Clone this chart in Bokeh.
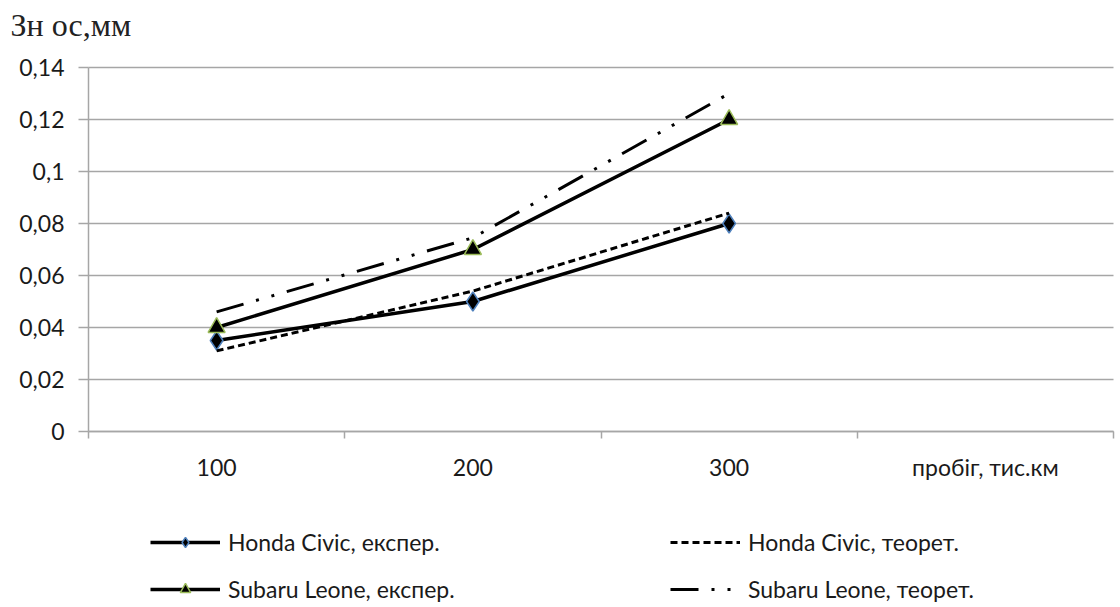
from bokeh.plotting import figure
from bokeh.models import FixedTicker, Legend, LegendItem, Label, Range1d, Grid
from bokeh.embed import file_html
from bokeh.resources import INLINE

# ---- data ----
x_pos = [1, 2, 3]
x_tick_pos = [1, 2, 3, 4]
x_tick_labels = ["100", "200", "300", "пробіг, тис.км"]
x_boundaries = [0.5, 1.5, 2.5, 3.5, 4.5]
honda_exp = [0.035, 0.05, 0.08]
honda_theor = [0.031, 0.054, 0.084]
subaru_exp = [0.04, 0.07, 0.12]
subaru_theor = [0.046, 0.0745, 0.13]
y_ticks = [0, 0.02, 0.04, 0.06, 0.08, 0.1, 0.12, 0.14]
y_tick_labels = ["0", "0,02", "0,04", "0,06", "0,08", "0,1", "0,12", "0,14"]
y_title = "Зн ос,мм"
legend_labels = ["Honda Civic, експер.", "Honda Civic, теорет.",
                 "Subaru Leone, експер.", "Subaru Leone, теорет."]

GRAY = "#a6a6a6"
FONT = "Lato"
FS = "23px"
W, H = 1120, 607

# The frame covers the whole canvas; axes are fixed inside it and bounded,
# so the title and the legend can be placed freely around the plot area.
PX_X = (1113 - 88) / (x_boundaries[-1] - x_boundaries[0])
PX_Y = (431 - 67) / (y_ticks[-1] - y_ticks[0])
x_range = Range1d(x_boundaries[0] - 88 / PX_X, x_boundaries[-1] + (W - 1113) / PX_X)
y_range = Range1d(y_ticks[0] - (H - 431) / PX_Y, y_ticks[-1] + 67 / PX_Y)

p = figure(width=W, height=H, output_backend="svg", toolbar_location=None,
           x_range=x_range, y_range=y_range,
           min_border_left=0, min_border_right=0, min_border_top=0,
           min_border_bottom=0)
p.outline_line_color = None
p.background_fill_color = "white"
p.border_fill_color = "white"

# title (y-axis name)
p.add_layout(Label(x=10, y=H - 24, x_units="screen", y_units="screen",
                   text=y_title, text_baseline="middle", text_align="left",
                   text_font="Liberation Serif", text_font_size="32px",
                   text_color="#222222"))

# grid (horizontal lines only, spanning the plot area)
p.xgrid.visible = False
if "cross_bounds" in Grid.properties():
    p.ygrid.grid_line_color = GRAY
    p.ygrid.grid_line_width = 1.5
    p.ygrid.ticker = FixedTicker(ticks=y_ticks)
    p.ygrid.cross_bounds = (x_boundaries[0], x_boundaries[-1])
else:
    p.ygrid.visible = False
    p.segment(x0=[x_boundaries[0]] * len(y_ticks), x1=[x_boundaries[-1]] * len(y_ticks),
              y0=y_ticks, y1=y_ticks, line_color=GRAY, line_width=1.5,
              level="underlay")

# y axis
p.yaxis.fixed_location = x_boundaries[0]
p.yaxis.ticker = FixedTicker(ticks=y_ticks)
p.yaxis.bounds = (y_ticks[0], y_ticks[-1])
p.yaxis.major_label_overrides = {v: s for v, s in zip(y_ticks, y_tick_labels)}
p.yaxis.axis_line_color = GRAY
p.yaxis.axis_line_width = 1.5
p.yaxis.major_tick_line_color = GRAY
p.yaxis.major_tick_line_width = 1.5
p.yaxis.major_tick_out = 10
p.yaxis.major_tick_in = 0
p.yaxis.minor_tick_line_color = None
p.yaxis.major_label_text_font = FONT
p.yaxis.major_label_text_font_size = FS
p.yaxis.major_label_text_color = "#1a1a1a"
p.yaxis.major_label_standoff = 14

# x axis, fixed at value 0
p.xaxis.fixed_location = y_ticks[0]
p.xaxis.bounds = (x_boundaries[0], x_boundaries[-1])
p.xaxis.ticker = FixedTicker(ticks=x_tick_pos, minor_ticks=x_boundaries)
p.xaxis.major_label_overrides = {v: s for v, s in zip(x_tick_pos, x_tick_labels)}
p.xaxis.axis_line_color = GRAY
p.xaxis.axis_line_width = 1.5
p.xaxis.major_tick_line_color = None
p.xaxis.minor_tick_line_color = GRAY
p.xaxis.minor_tick_line_width = 1.5
p.xaxis.minor_tick_out = 7
p.xaxis.minor_tick_in = 0
p.xaxis.major_label_text_font = FONT
p.xaxis.major_label_text_font_size = FS
p.xaxis.major_label_text_color = "#1a1a1a"
p.xaxis.major_label_standoff = 14

# series
l1 = p.line(x_pos, honda_exp, line_color="black", line_width=3.5)
m1 = p.scatter(x_pos, honda_exp, marker="diamond", size=19, fill_color="black",
               line_color="#4f81bd", line_width=1.5)
l2 = p.line(x_pos, honda_theor, line_color="black", line_width=3, line_dash="7 4")
l3 = p.line(x_pos, subaru_exp, line_color="black", line_width=3.5)
m3 = p.scatter(x_pos, subaru_exp, marker="triangle", size=17, fill_color="black",
               line_color="#9bbb59", line_width=1.5)
l4 = p.line(x_pos, subaru_theor, line_color="black", line_width=3,
            line_dash="28 13 3 13 3 13")

# Bokeh fills a multi-column legend column by column
legend = Legend(items=[
    LegendItem(label=legend_labels[0], renderers=[l1, m1]),
    LegendItem(label=legend_labels[2], renderers=[l3, m3]),
    LegendItem(label=legend_labels[1], renderers=[l2]),
    LegendItem(label=legend_labels[3], renderers=[l4]),
], ncols=2, location=(150, 4))
legend.glyph_width = 70
legend.glyph_height = 26
legend.label_height = 26
legend.label_standoff = 8
legend.spacing = 19
legend.label_width = 520 - 70 - 8 - 19
legend.padding = 0
legend.margin = 0
legend.border_line_color = None
legend.background_fill_alpha = 0
legend.label_text_font = FONT
legend.label_text_font_size = FS
legend.label_text_color = "#1a1a1a"
p.add_layout(legend, "center")

open("out.html", "w").write(file_html(p, INLINE))
